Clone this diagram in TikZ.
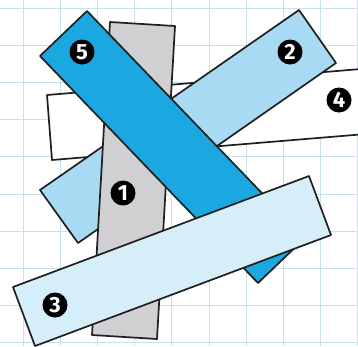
\documentclass[tikz,border=0pt]{standalone}
\usepackage{fontspec}
\setsansfont{Fira Sans}
\usepackage{tikz}

\definecolor{stripgray}{RGB}{208,208,211}
\definecolor{stripblue}{RGB}{27,168,224}
\definecolor{stripsky}{RGB}{168,218,243}
\definecolor{stripice}{RGB}{214,237,250}
\definecolor{gridline}{RGB}{200,223,236}

\tikzset{
	strip/.style={draw=black!88, line width=1.7pt, line join=round},
	num/.style={circle, fill=black, text=white, inner sep=0pt, minimum size=25pt,
		font=\sffamily\bfseries\fontsize{22}{22}\selectfont},
}

\begin{document}
\begin{tikzpicture}[x=1pt, y=-1pt]
		\useasboundingbox (0, 0) rectangle (358, 346);
		\fill[white] (0, 0) rectangle (358, 346);

		\begin{scope}
			\clip (0, 0) rectangle (358, 346);

			% squared paper
			\foreach \i in {0,...,9} {
				\draw[gridline, line width=1pt] ({23+37.2*\i}, 0) -- ({23+37.2*\i}, 346);
				\draw[gridline, line width=1pt] (0, {8+37.2*\i}) -- (358, {8+37.2*\i});
			}

			% strip 4 (bottom)
			\filldraw[strip, fill=white] (47, 95) -- (361, 69) -- (366, 134) -- (52, 160) -- cycle;
			% strip 2
			\filldraw[strip, fill=stripsky] (40, 190) -- (299, 10) -- (336, 63) -- (78, 243) -- cycle;
			% strip 1
			\filldraw[strip, fill=stripgray] (110, 22) -- (175, 26) -- (157, 339) -- (92, 335) -- cycle;
			% strip 5
			\filldraw[strip, fill=stripblue] (40, 56) -- (87, 11) -- (305, 238) -- (258, 283) -- cycle;
			% strip 3 (top)
			\filldraw[strip, fill=stripice] (13, 287) -- (309, 176) -- (331, 235) -- (35, 346) -- cycle;
		\end{scope}

		\node[num] (n5) at (82, 52) {5};
		\node[num] (n2) at (290, 52) {2};
		\node[num] (n4) at (339, 100) {4};
		\node[num] (n1) at (123, 193) {1};
		\node[num] (n3) at (55, 305) {3};
	\end{tikzpicture}
\end{document}
